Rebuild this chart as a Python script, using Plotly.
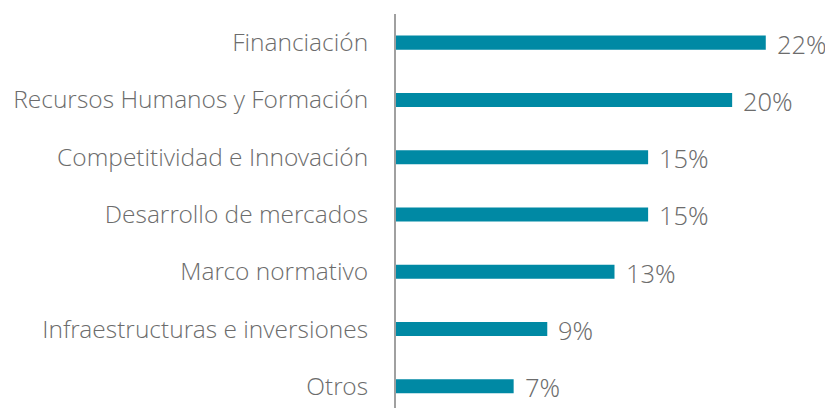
import plotly.graph_objects as go

categories = ["Financiación", "Recursos Humanos y Formación", "Competitividad e Innovación",
              "Desarrollo de mercados", "Marco normativo", "Infraestructuras e inversiones", "Otros"]
values = [22, 20, 15, 15, 13, 9, 7]
value_labels = ["22%", "20%", "15%", "15%", "13%", "9%", "7%"]

FONT = "Open Sans Light, Open Sans, sans-serif"

fig = go.Figure(go.Bar(
    x=values, y=categories, orientation="h",
    marker=dict(color="#0089A4", line=dict(width=0)),
    width=0.245,
))

for c, v, t in zip(categories, values, value_labels):
    fig.add_annotation(x=v, y=c, text=t, showarrow=False, xanchor="left", yanchor="middle",
                       xshift=9, yshift=-1,
                       font=dict(family=FONT, size=25.5, color="#6c6c6c", weight=300))

fig.update_layout(
    width=825, height=400,
    margin=dict(l=388, r=0, t=6, b=0),
    paper_bgcolor="white", plot_bgcolor="white",
    showlegend=False,
    font=dict(family=FONT, size=24.5, color="#6c6c6c", weight=300),
    xaxis=dict(range=[0, 26.0], visible=False, automargin=False),
    yaxis=dict(type="category", range=[6.38, -0.5], showgrid=False, automargin=False,
               showline=True, linecolor="#a0a0a0", linewidth=2,
               ticks="", ticklabelstandoff=21,
               tickfont=dict(family=FONT, size=24.5, color="#6c6c6c", weight=300)),
)

fig.write_html("out.html")
